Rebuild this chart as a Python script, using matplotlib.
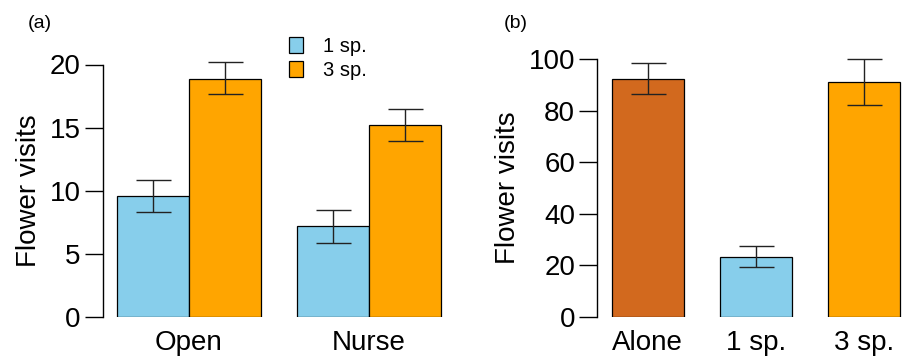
import matplotlib
matplotlib.use("Agg")
import matplotlib.pyplot as plt
import numpy as np
from matplotlib.patches import Patch

plt.rcParams['font.family'] = ['Liberation Sans', 'DejaVu Sans']

# ---- data ----
sites = ["Open", "Nurse"]
series = ["1 sp.", "3 sp."]
mean_1sp = [9.58, 7.18]
lo_1sp = [8.32, 5.84]
hi_1sp = [10.85, 8.50]
mean_3sp = [18.88, 15.21]
lo_3sp = [17.64, 13.92]
hi_3sp = [20.17, 16.48]

treat_b = ["Alone", "1 sp.", "3 sp."]
mean_b = [92.5, 23.3, 91.2]
lo_b = [86.7, 19.3, 82.3]
hi_b = [98.7, 27.6, 100.0]

col_1sp = "#87CEEB"
col_3sp = "#FFA500"
col_alone = "#D2691E"

W, H = 912, 361
fig = plt.figure(figsize=(W / 100, H / 100), dpi=100)

def px_axes(l, r, b, t):
    return fig.add_axes([l / W, (H - b) / H, (r - l) / W, (b - t) / H])

FS = 20
def style(ax, ymax, ticks):
    for s in ["top", "right", "bottom"]:
        ax.spines[s].set_visible(False)
    ax.spines["left"].set_bounds(0, ymax)
    ax.spines["left"].set_linewidth(1.0)
    ax.set_ylim(0, ymax)
    ax.set_yticks(ticks)
    ax.tick_params(axis="y", length=13, width=1.0, pad=3, labelsize=FS, colors="black")
    ax.tick_params(axis="x", length=0, pad=9, labelsize=FS)
    ax.set_ylabel("Flower visits", fontsize=FS, labelpad=5.5)

# ---- panel (a) ----
axa = px_axes(103, 455, 317, 64.5)
bw = 1.0
grp = np.array([1.0, 3.5])
x1 = grp - bw / 2
x3 = grp + bw / 2
err1 = [np.array(mean_1sp) - np.array(lo_1sp), np.array(hi_1sp) - np.array(mean_1sp)]
err3 = [np.array(mean_3sp) - np.array(lo_3sp), np.array(hi_3sp) - np.array(mean_3sp)]
axa.bar(x1, mean_1sp, width=bw, color=col_1sp, edgecolor="black", linewidth=0.9, label=series[0])
axa.bar(x3, mean_3sp, width=bw, color=col_3sp, edgecolor="black", linewidth=0.9, label=series[1])
axa.errorbar(x1, mean_1sp, yerr=err1, fmt="none", ecolor="#222222", elinewidth=1.0, capsize=12.6, capthick=1.0, clip_on=False)
axa.errorbar(x3, mean_3sp, yerr=err3, fmt="none", ecolor="#222222", elinewidth=1.0, capsize=12.6, capthick=1.0, clip_on=False)
axa.set_xlim(0.5 - 50 / 72, 0.5 + 302 / 72)
axa.set_xticks(grp)
axa.set_xticklabels(sites)
style(axa, 20, [0, 5, 10, 15, 20])
handles = [Patch(facecolor=col_1sp, edgecolor="black", linewidth=0.9),
           Patch(facecolor=col_3sp, edgecolor="black", linewidth=0.9)]
leg = axa.legend(handles, series, loc="upper left", bbox_to_anchor=(275 / W, 1 - 23 / H),
                 bbox_transform=fig.transFigure, frameon=False, fontsize=14.5,
                 handlelength=0.7, handleheight=0.85, handletextpad=1.0, labelspacing=0.25,
                 borderpad=0.2)

# ---- panel (b) ----
axb = px_axes(597.3, 905, 317, 59.3)
xb = np.arange(len(treat_b)) * 1.5
errb = [np.array(mean_b) - np.array(lo_b), np.array(hi_b) - np.array(mean_b)]
axb.bar(xb, mean_b, width=bw, color=[col_alone, col_1sp, col_3sp], edgecolor="black", linewidth=0.9)
axb.errorbar(xb, mean_b, yerr=errb, fmt="none", ecolor="#222222", elinewidth=1.0, capsize=12.6, capthick=1.0, clip_on=False)
axb.set_xlim(-50.4 / 72, (905 - 647.7) / 72)
axb.set_xticks(xb)
axb.set_xticklabels(treat_b)
style(axb, 100, [0, 20, 40, 60, 80, 100])

fig.text(28 / W, 1 - 23 / H, "(a)", fontsize=14, va="center", ha="left")
fig.text(504 / W, 1 - 23 / H, "(b)", fontsize=14, va="center", ha="left")

fig.savefig("out.png", dpi=100)
